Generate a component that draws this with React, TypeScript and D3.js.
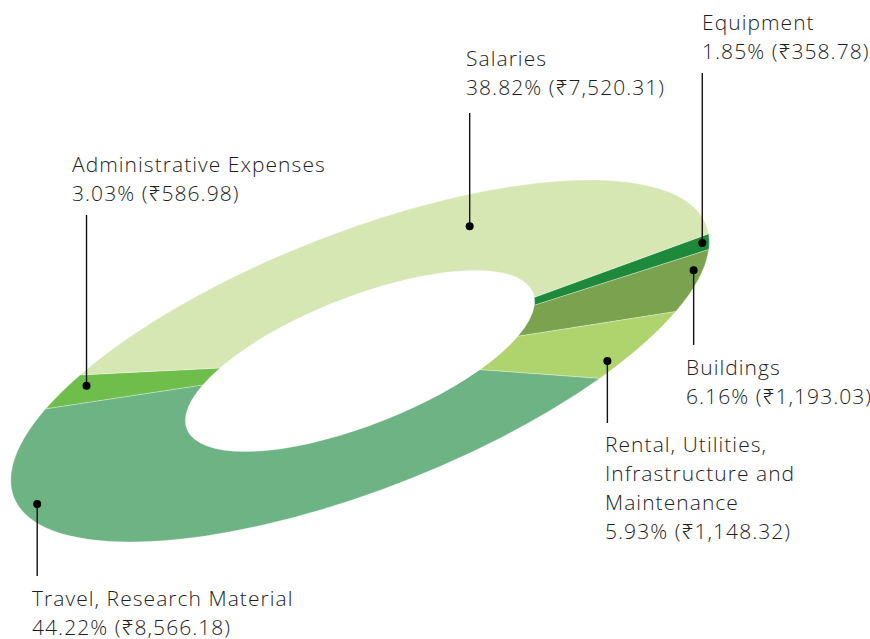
import React, { useEffect, useRef } from "react";
import * as d3 from "d3";

// ---- data ----
const categories = [
  "Equipment",
  "Buildings",
  "Rental, Utilities, Infrastructure and Maintenance",
  "Travel, Research Material",
  "Administrative Expenses",
  "Salaries",
];
const percents = [1.85, 6.16, 5.93, 44.22, 3.03, 38.82];
const amounts = ["₹358.78", "₹1,193.03", "₹1,148.32", "₹8,566.18", "₹586.98", "₹7,520.31"];
const colors = ["#1d8a3b", "#7ba24f", "#b0d46d", "#6db384", "#6fbe4b", "#d7e7b4"];
// label name lines (wrapped as in the reference)
const labelLines = [
  ["Equipment"],
  ["Buildings"],
  ["Rental, Utilities,", "Infrastructure and", "Maintenance"],
  ["Travel, Research Material"],
  ["Administrative Expenses"],
  ["Salaries"],
];

// ---- layout ----
const W = 870;
const H = 639;
const CX = 360;
const CY = 361;
const A_AX = 372; // outer semi-major (px)
const B_AX = 128; // outer semi-minor (px)
const TILT = (-21.5 * Math.PI) / 180;
const R = 100; // arc radius in local units
const INNER = 0.5;
const START = ((4.2 + 90) * Math.PI) / 180;
// leader anchors: [fraction along slice, radius fraction], line end y, text x, first baseline y
const anchorT = [0.45, 0.31, 0.74, 0.746, 0.625, 0.551];
const anchorR = [0.98, 0.97, 0.94, 0.955, 0.93, 0.78];
const lineEndY = [73, 345, 423, 576, 215, 113];
const textX = [702, 686, 605, 32, 72, 466];
const textY = [30, 375, 452, 606, 172, 66];
const LINE_H = 29;

export default function App() {
  const ref = useRef<SVGSVGElement>(null);
  useEffect(() => {
    const svg = d3.select(ref.current);
    svg.selectAll("*").remove();

    const s = A_AX / R;
    const t = B_AX / R;
    const u1x = Math.cos(TILT), u1y = Math.sin(TILT);
    const u2x = -Math.sin(TILT), u2y = Math.cos(TILT);
    const mA = s * u1x, mB = s * u1y, mC = t * u2x, mD = t * u2y;
    const apply = (x: number, y: number): [number, number] => [
      CX + mA * x + mC * y,
      CY + mB * x + mD * y,
    ];

    const data = percents.map((p, i) => ({ p, i }));
    const pie = d3
      .pie<{ p: number; i: number }>()
      .sort(null)
      .value((d) => d.p)
      .startAngle(START)
      .endAngle(START + 2 * Math.PI);
    const arcs = pie(data);
    const arc = d3
      .arc<d3.PieArcDatum<{ p: number; i: number }>>()
      .innerRadius(R * INNER)
      .outerRadius(R);

    const g = svg
      .append("g")
      .attr("transform", `matrix(${mA},${mB},${mC},${mD},${CX},${CY})`);
    g.selectAll("path")
      .data(arcs)
      .join("path")
      .attr("d", (d) => arc(d) as string)
      .attr("fill", (d) => colors[d.data.i])
      .attr("stroke", "#ffffff")
      .attr("stroke-opacity", 0.6)
      .attr("stroke-width", 0.5)
      .attr("vector-effect", "non-scaling-stroke");

    const lab = svg.append("g");
    arcs.forEach((d) => {
      const i = d.data.i;
      const ang = d.startAngle + anchorT[i] * (d.endAngle - d.startAngle);
      const rr = anchorR[i] * R;
      const [px, py] = apply(rr * Math.sin(ang), -rr * Math.cos(ang));
      lab
        .append("line")
        .attr("x1", px)
        .attr("y1", py)
        .attr("x2", px)
        .attr("y2", lineEndY[i])
        .attr("stroke", "#111")
        .attr("stroke-width", 1.4);
      lab.append("circle").attr("cx", px).attr("cy", py).attr("r", 4).attr("fill", "#000");
      const lines = [...labelLines[i], `${percents[i].toFixed(2)}% (${amounts[i]})`];
      const txt = lab
        .append("text")
        .attr("x", textX[i])
        .attr("y", textY[i])
        .attr("fill", "#1e1e1e")
        .style("font-family", "'Open Sans', 'Noto Sans', sans-serif")
        .style("font-weight", 300)
        .style("font-size", "21px")
        .style("letter-spacing", "1.05px");
      lines.forEach((ln, k) => {
        txt
          .append("tspan")
          .attr("x", textX[i])
          .attr("y", textY[i] + k * LINE_H)
          .text(ln);
      });
    });
  }, []);
  return (
    <svg
      ref={ref}
      width={W}
      height={H}
      style={{ position: "absolute", left: 0, top: 0, background: "#fff" }}
    />
  );
}
